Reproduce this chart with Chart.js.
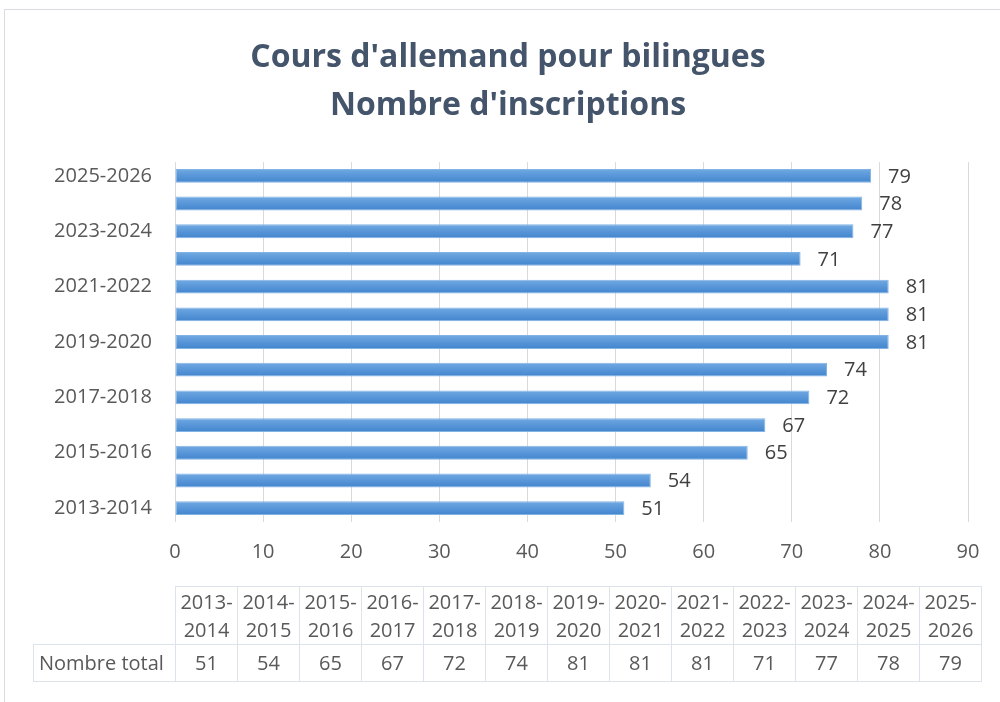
<!DOCTYPE html>
<html>
<head>
<meta charset="utf-8">
<script src="https://cdn.jsdelivr.net/npm/chart.js@4.4.1/dist/chart.umd.min.js"></script>
<style>
  html, body { margin: 0; padding: 0; background: #ffffff; }
  #wrap { position: relative; width: 1000px; height: 702px; overflow: hidden; background: #fff; }
  #frame { position: absolute; left: 4px; top: 9px; width: 1010px; height: 720px; border: 1px solid #d9dde3; box-sizing: border-box; }
  canvas { position: absolute; left: 0; top: 0; }
  #tbl { position: absolute; left: 33px; top: 586px; border-collapse: collapse; table-layout: fixed;
         font-family: 'Open Sans', sans-serif; font-size: 20px; color: #595959; }
  #tbl td { border: 1px solid #dde3ea; text-align: center; padding: 0; white-space: nowrap; }
  #tbl tr.h td { height: 57px; line-height: 28px; }
  #tbl tr.d td { height: 36px; line-height: 36px; }
  #tbl td.corner { border-top: none; border-left: none; }
  #tbl td.rowlab { text-align: left; padding-left: 5px; }
</style>
</head>
<body>
<div id="wrap">
  <div id="frame"></div>
  <canvas id="c" width="1000" height="702"></canvas>
  <table id="tbl"></table>
</div>
<script>
// ---- data ----
const titleLines = ["Cours d'allemand pour bilingues", "Nombre d'inscriptions"];
const categories = ['2013-2014','2014-2015','2015-2016','2016-2017','2017-2018','2018-2019','2019-2020',
                    '2020-2021','2021-2022','2022-2023','2023-2024','2024-2025','2025-2026'];
const totals = [51, 54, 65, 67, 72, 74, 81, 81, 81, 71, 77, 78, 79];
const rowLabel = 'Nombre total';
const xTickValues = [0, 10, 20, 30, 40, 50, 60, 70, 80, 90];

// ---- table (built from the arrays) ----
(function buildTable() {
  const tbl = document.getElementById('tbl');
  const colW = 62, firstW = 142;
  const cg = document.createElement('colgroup');
  const c0 = document.createElement('col'); c0.style.width = firstW + 'px'; cg.appendChild(c0);
  categories.forEach(() => { const c = document.createElement('col'); c.style.width = colW + 'px'; cg.appendChild(c); });
  tbl.appendChild(cg);
  const h = document.createElement('tr'); h.className = 'h';
  const corner = document.createElement('td'); corner.className = 'corner'; h.appendChild(corner);
  categories.forEach(cat => {
    const td = document.createElement('td');
    const parts = cat.split('-');
    td.innerHTML = parts[0] + '-<br>' + parts[1];
    h.appendChild(td);
  });
  tbl.appendChild(h);
  const d = document.createElement('tr'); d.className = 'd';
  const lab = document.createElement('td'); lab.className = 'rowlab'; lab.textContent = rowLabel; d.appendChild(lab);
  totals.forEach(v => { const td = document.createElement('td'); td.textContent = v; d.appendChild(td); });
  tbl.appendChild(d);
})();

// ---- chart ----
Chart.defaults.font.family = "'Open Sans', sans-serif";

const valueLabels = {
  id: 'valueLabels',
  afterDatasetsDraw(chart) {
    const ctx = chart.ctx;
    const meta = chart.getDatasetMeta(0);
    ctx.save();
    ctx.font = "20px 'Open Sans', sans-serif";
    ctx.fillStyle = '#404040';
    ctx.textAlign = 'left';
    ctx.textBaseline = 'middle';
    meta.data.forEach((el, i) => {
      ctx.fillText(String(chart.data.datasets[0].data[i]), el.x + 17, el.y + 1);
    });
    ctx.restore();
  }
};

function barFill(context) {
  const chart = context.chart;
  const ys = chart.scales && chart.scales.y;
  if (!ys || context.dataIndex === undefined) return '#5593d6';
  const c = ys.getPixelForValue(context.dataIndex);
  if (!isFinite(c)) return '#5593d6';
  const g = chart.ctx.createLinearGradient(0, c - 7, 0, c + 7);
  g.addColorStop(0, '#72aae3');
  g.addColorStop(0.5, '#5896d8');
  g.addColorStop(1, '#4284cd');
  return g;
}

new Chart(document.getElementById('c'), {
  type: 'bar',
  data: {
    labels: categories,
    datasets: [{
      data: totals,
      backgroundColor: barFill,
      borderColor: '#82b3e5',
      borderWidth: 1,
      borderSkipped: false,
      barPercentage: 0.5,
      categoryPercentage: 1.0
    }]
  },
  options: {
    indexAxis: 'y',
    responsive: false,
    animation: false,
    devicePixelRatio: 1,
    layout: { padding: { left: 48, right: 32, top: 0, bottom: 0 } },
    plugins: {
      legend: { display: false },
      tooltip: { enabled: false },
      title: {
        display: true,
        text: titleLines,
        color: '#44546a',
        font: { size: 32, weight: 'bold', lineHeight: 48 / 32 },
        padding: { top: 34, bottom: 32 }
      }
    },
    scales: {
      x: {
        min: xTickValues[0],
        max: xTickValues[xTickValues.length - 1],
        afterBuildTicks(scale) { scale.ticks = xTickValues.map(v => ({ value: v })); },
        ticks: { color: '#595959', font: { size: 20 }, padding: 18 },
        grid: { color: '#d9d9d9', drawTicks: false },
        border: { display: false },
        afterFit(scale) { scale.height = 180; }
      },
      y: {
        reverse: true,
        ticks: {
          autoSkip: false,
          color: '#595959',
          font: { size: 20 },
          padding: 15,
          callback(value, index) { return index % 2 === 0 ? this.getLabelForValue(value) : ''; }
        },
        grid: { display: false },
        border: { display: false },
        afterFit(scale) { scale.width = 127; }
      }
    }
  },
  plugins: [valueLabels]
});
</script>
</body>
</html>
